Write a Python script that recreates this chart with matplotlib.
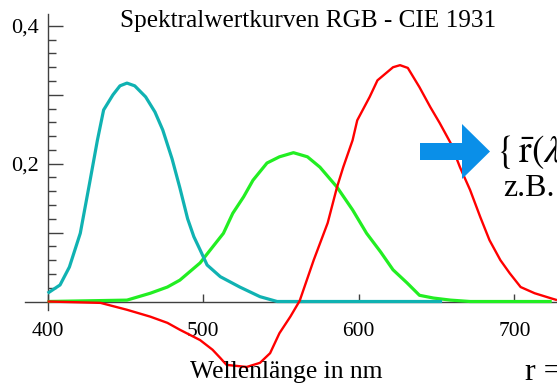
import numpy as np
import matplotlib.pyplot as plt
from matplotlib.patches import FancyArrow
from matplotlib.ticker import FixedLocator

plt.rcParams['font.family'] = ['Liberation Serif', 'DejaVu Serif']
plt.rcParams['mathtext.fontset'] = 'stix'

# Spektralwertkurven
lam_b = [400, 408, 414, 421, 427, 432, 436, 442, 446.5, 451, 456, 463, 469, 474,
         480, 485, 490, 494, 498, 502.5, 511, 523.5, 536.5, 547.5, 562, 653.5]
val_b = [0.012, 0.024, 0.050, 0.099, 0.172, 0.234, 0.278, 0.300, 0.313, 0.317, 0.313,
         0.297, 0.275, 0.249, 0.207, 0.165, 0.120, 0.094, 0.075, 0.053, 0.036, 0.021,
         0.007, 0.0, 0.0, 0.0]

lam_g = [400, 451, 466, 477, 485, 498, 506, 513, 519, 526, 532, 541, 549, 558, 567,
         575, 586, 596, 605, 614, 622, 631, 639, 648, 659, 671.5, 724]
val_g = [0.0, 0.002, 0.012, 0.021, 0.031, 0.056, 0.079, 0.099, 0.128, 0.152, 0.176,
         0.201, 0.210, 0.216, 0.210, 0.195, 0.166, 0.133, 0.099, 0.072, 0.046, 0.027,
         0.009, 0.005, 0.002, 0.0, 0.0]

lam_r = [400, 434, 451, 466, 477, 485, 498, 506, 511, 515, 528, 536.5, 543, 549, 556,
         562, 571, 580, 586, 590, 596, 599, 607, 612, 622, 626.5, 631.5, 639, 646, 652,
         659, 665, 671.5, 678, 684, 691, 697, 704, 713, 723, 727.4]
val_r = [0.0, -0.002, -0.012, -0.022, -0.031, -0.041, -0.056, -0.070, -0.082, -0.092,
         -0.095, -0.089, -0.075, -0.046, -0.022, 0.001, 0.060, 0.114, 0.166, 0.195,
         0.234, 0.263, 0.297, 0.321, 0.340, 0.343, 0.339, 0.311, 0.282, 0.259, 0.230,
         0.195, 0.162, 0.123, 0.089, 0.060, 0.041, 0.021, 0.012, 0.005, 0.002]

x_ticks = [400, 500, 600, 700]
x_labels = ['400', '500', '600', '700']
y_major = [0.1, 0.2, 0.3, 0.4]
y_labels = ['', '0,2', '', '0,4']

W, H = 557, 388
fig = plt.figure(figsize=(W / 100, H / 100), dpi=100)
ax = fig.add_axes([0, 0, 1, 1])
ax.patch.set_alpha(0)

# Pixel -> Daten (lineare Achsen)
px_per_nm = 1.556
px_per_unit = 689.0
def lam_at(px):
    return 550 + (px - 281) / px_per_nm
def val_at(py):
    return (301.5 - py) / px_per_unit

ax.set_xlim(lam_at(0), lam_at(W))
ax.set_ylim(val_at(H), val_at(0))

kw = dict(solid_capstyle='butt', solid_joinstyle='round')
ax.plot(lam_g, val_g, color='#22ee22', lw=2.3, zorder=2, **kw)
ax.plot(lam_b, val_b, color='#10b2b2', lw=2.3, zorder=3, **kw)
ax.plot(lam_r, val_r, color='#ff0000', lw=1.7, zorder=4, **kw)

for s in ['top', 'right']:
    ax.spines[s].set_visible(False)
ax.spines['left'].set_position(('data', 400))
ax.spines['bottom'].set_position(('data', 0))
ax.spines['left'].set_bounds(val_at(310), val_at(14))
ax.spines['bottom'].set_bounds(lam_at(25), lam_at(W))
for s in ['left', 'bottom']:
    ax.spines[s].set_color('#404040')
    ax.spines[s].set_linewidth(1.0)
    ax.spines[s].set_zorder(1)

ax.xaxis.set_major_locator(FixedLocator(x_ticks))
ax.set_xticklabels(x_labels)
ax.tick_params(axis='x', direction='in', length=6, width=1, color='#404040',
               labelsize=15.5, pad=15)

minor = [round(0.02 * i, 2) for i in range(1, 20) if i % 5 != 0]
ax.yaxis.set_major_locator(FixedLocator(y_major))
ax.yaxis.set_minor_locator(FixedLocator(minor))
ax.set_yticklabels(y_labels)
ax.tick_params(axis='y', which='major', direction='in', length=11, width=1,
               color='#404040', labelsize=16, pad=6)
ax.tick_params(axis='y', which='minor', direction='in', length=6, width=1,
               color='#404040')

def px(x, y):
    return x / W, 1 - y / H

fig.text(*px(308, 21), 'Spektralwertkurven RGB - CIE 1931', fontsize=18.2,
         ha='center', va='center')
fig.text(*px(286, 372), 'Wellenlänge in nm', fontsize=18.4, ha='center', va='center')

# Pfeil und angeschnittener Text rechts
arrow = FancyArrow(420 / W, 1 - 151.5 / H, 70 / W, 0, width=17 / H,
                   head_width=55 / H, head_length=28 / W, length_includes_head=True,
                   transform=fig.transFigure, color='#0a8fe8', lw=0, zorder=5)
fig.patches.append(arrow)
fig.text(*px(496, 152), r'$\{\,\bar{\mathrm{r}}(\lambda$', fontsize=27,
         ha='left', va='center')
fig.text(*px(503, 188), 'z.B.', fontsize=23, ha='left', va='center')
fig.text(*px(525, 372), 'r =', fontsize=23, ha='left', va='center')

fig.savefig('out.png', dpi=100)
